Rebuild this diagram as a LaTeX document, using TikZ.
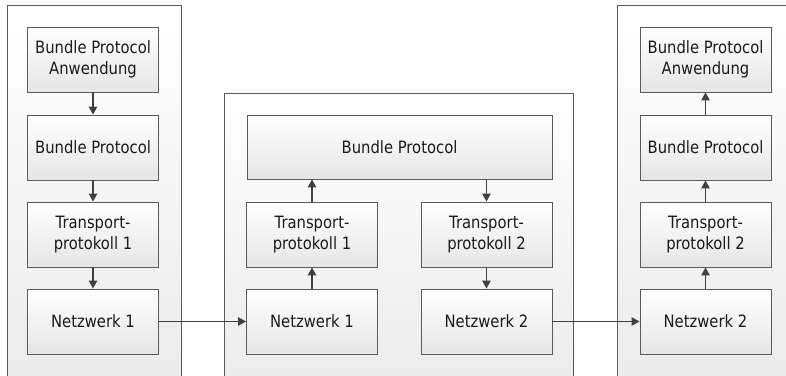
\documentclass[tikz,border=0pt]{standalone}
\usepackage{fontspec}
\setmainfont{DejaVu Sans}[FakeStretch=0.87]
\usetikzlibrary{arrows.meta}
\definecolor{linec}{HTML}{404040}
\definecolor{borderc}{HTML}{5A5A5A}
\definecolor{textc}{HTML}{1A1A1A}
\tikzset{
  container/.style={draw=borderc, line width=0.9pt, top color=white, bottom color=black!8},
  layerbox/.style={draw=borderc, line width=0.9pt, top color=white, bottom color=black!10,
    rectangle, align=center, inner sep=0pt, minimum width=131pt, minimum height=65pt,
    font=\fontsize{17pt}{21.5pt}\selectfont, text=textc},
  conn/.style={draw=linec, line width=1.3pt, -{Triangle[length=8pt,width=8.5pt]}},
}
\begin{document}
\begin{tikzpicture}[x=1pt,y=-1pt]
\useasboundingbox (0,0) rectangle (786,375);
\clip (0,0) rectangle (786,375);
% containers
\path[container] (7,5) rectangle (181,390);
\path[container] (224,93) rectangle (573,390);
\path[container] (617,5) rectangle (800,390);
% left stack
\node[layerbox] (la) at (93,59.5) {Bundle Protocol\\Anwendung};
\node[layerbox] (lb) at (93,147.5) {Bundle Protocol};
\node[layerbox] (lt) at (93,234.5) {Transport-\\protokoll 1};
\node[layerbox] (ln) at (93,321.5) {Netzwerk 1};
% middle
\node[layerbox, minimum width=305pt, minimum height=64pt] (mb) at (399.5,147) {Bundle Protocol};
\node[layerbox] (mt1) at (312,234.5) {Transport-\\protokoll 1};
\node[layerbox] (mt2) at (486.5,234.5) {Transport-\\protokoll 2};
\node[layerbox] (mn1) at (312,321.5) {Netzwerk 1};
\node[layerbox] (mn2) at (486.5,321.5) {Netzwerk 2};
% right stack
\node[layerbox] (ra) at (705.5,59.5) {Bundle Protocol\\Anwendung};
\node[layerbox] (rb) at (705.5,147.5) {Bundle Protocol};
\node[layerbox] (rt) at (705.5,234.5) {Transport-\\protokoll 2};
\node[layerbox] (rn) at (705.5,321.5) {Netzwerk 2};
% connectors
\draw[conn] (la) -- (lb);
\draw[conn] (lb) -- (lt);
\draw[conn] (lt) -- (ln);
\draw[conn] (ln) -- (mn1);
\draw[conn] (mn1) -- (mt1);
\draw[conn] (mt1.north) -- (mt1.north |- mb.south);
\draw[conn] (mt2.north |- mb.south) -- (mt2.north);
\draw[conn] (mt2) -- (mn2);
\draw[conn] (mn2) -- (rn);
\draw[conn] (rn) -- (rt);
\draw[conn] (rt) -- (rb);
\draw[conn] (rb) -- (ra);
\end{tikzpicture}
\end{document}
